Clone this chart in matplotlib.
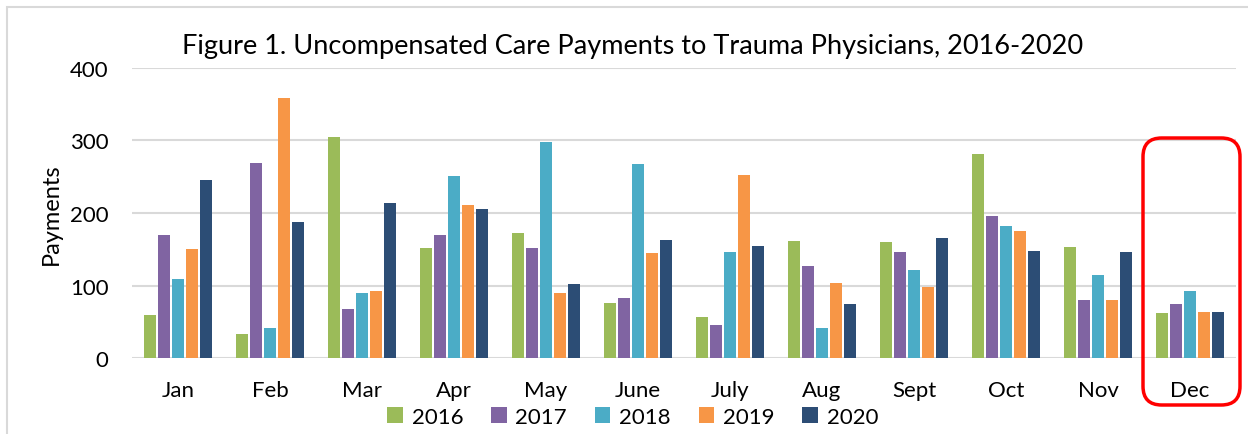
import numpy as np
import matplotlib
matplotlib.use('Agg')
import matplotlib.pyplot as plt
from matplotlib.patches import FancyBboxPatch, Rectangle

months = ['Jan', 'Feb', 'Mar', 'Apr', 'May', 'June', 'July', 'Aug', 'Sept', 'Oct', 'Nov', 'Dec']
years = ['2016', '2017', '2018', '2019', '2020']

pay_2016 = [60, 33, 305, 152, 172, 76, 57, 161, 160, 281, 153, 62]
pay_2017 = [170, 269, 68, 170, 152, 83, 46, 127, 146, 196, 80, 75]
pay_2018 = [109, 41, 89, 251, 298, 267, 146, 41, 121, 182, 115, 92]
pay_2019 = [150, 358, 93, 211, 90, 145, 252, 103, 98, 175, 80, 63]
pay_2020 = [246, 187, 214, 206, 102, 163, 155, 75, 166, 148, 146, 63]

series = [pay_2016, pay_2017, pay_2018, pay_2019, pay_2020]
colors = ['#9BBB59', '#8064A2', '#4BACC6', '#F79646', '#2C4D75']

plt.rcParams['font.family'] = ['Lato', 'DejaVu Sans']

fig = plt.figure(figsize=(12.48, 4.35), dpi=100)
ax = fig.add_axes([0.1058, 0.1747, 0.8846, 0.6667])

x = np.arange(len(months))
step = 0.152
width = 0.123
for i, (vals, col, yr) in enumerate(zip(series, colors, years)):
    ax.bar(x + (i - 2) * step, vals, width=width, color=col, label=yr, zorder=3)

ax.set_xlim(-0.5, len(months) - 0.5)
ax.set_ylim(0, 400)
ax.set_yticks([0, 100, 200, 300, 400])
ax.set_xticks(x)
ax.set_xticklabels(months)
ax.tick_params(axis='both', length=0, labelsize=16)
ax.tick_params(axis='x', pad=16)
ax.tick_params(axis='y', pad=17)
ax.yaxis.grid(True, color='#d9d9d9', linewidth=1.5, zorder=0)
for s in ax.spines.values():
    s.set_visible(False)
ax.set_ylabel('Payments', fontsize=17, labelpad=6)

fig.text(0.507, 0.893, 'Figure 1. Uncompensated Care Payments to Trauma Physicians, 2016-2020',
         ha='center', va='center', fontsize=19.5)

fig.legend(loc='center', bbox_to_anchor=(0.507, 0.04), ncol=5, frameon=False,
           fontsize=16, handlelength=0.7, handleheight=0.7, handletextpad=0.4,
           columnspacing=1.25)

# outer chart border
fig.patches.append(Rectangle((7 / 1248, -0.1), 1.2, 1 - 8 / 435 + 0.1, transform=fig.transFigure,
                             fill=False, edgecolor='#d9d9d9', linewidth=1.5))

# red highlight around December
fig.patches.append(FancyBboxPatch((1143 / 1248, 1 - 406 / 435), 97 / 1248, 267 / 435,
                                  boxstyle='round,pad=0,rounding_size=0.015',
                                  transform=fig.transFigure, fill=False,
                                  edgecolor='red', linewidth=2.5,
                                  mutation_aspect=1248 / 435))

fig.savefig('out.png', dpi=100)
